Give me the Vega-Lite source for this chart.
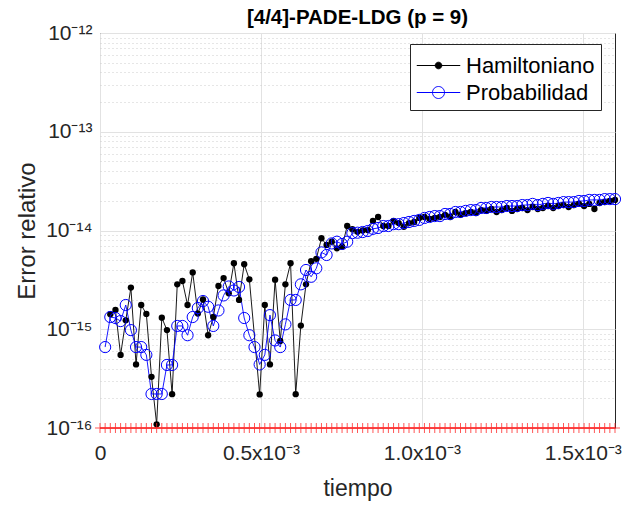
{
  "$schema": "https://vega.github.io/schema/vega-lite/v6.json",
  "width": 515,
  "height": 395,
  "autosize": "none",
  "padding": {"left": 100, "top": 33, "right": 14, "bottom": 78},
  "background": "white",
  "title": {"text": "[4/4]-PADE-LDG (p = 9)", "fontSize": 20.5, "fontWeight": "bold", "color": "#000000", "offset": 6, "dy": 12, "anchor": "middle", "font": "Liberation Sans"},
  "config": {
    "font": "Liberation Sans",
    "view": {"stroke": "#262626", "strokeWidth": 1}
  },
  "datasets": {
    "err": [
      {"t":32,"s":"Hamiltoniano","v":1.42e-15},{"t":48,"s":"Hamiltoniano","v":1.57e-15},{"t":64,"s":"Hamiltoniano","v":5.5e-16},{"t":80,"s":"Hamiltoniano","v":1.23e-15},{"t":96,"s":"Hamiltoniano","v":2.64e-15},{"t":112,"s":"Hamiltoniano","v":4.4e-16},{"t":128,"s":"Hamiltoniano","v":1.76e-15},{"t":144,"s":"Hamiltoniano","v":1.43e-15},{"t":160,"s":"Hamiltoniano","v":3.3e-16},{"t":176,"s":"Hamiltoniano","v":1.09e-16},
      {"t":192,"s":"Hamiltoniano","v":1.31e-15},{"t":208,"s":"Hamiltoniano","v":9.8e-16},{"t":224,"s":"Hamiltoniano","v":2.2e-16},{"t":240,"s":"Hamiltoniano","v":2.85e-15},{"t":256,"s":"Hamiltoniano","v":3.08e-15},{"t":272,"s":"Hamiltoniano","v":1.76e-15},{"t":288,"s":"Hamiltoniano","v":3.76e-15},{"t":304,"s":"Hamiltoniano","v":1.44e-15},{"t":320,"s":"Hamiltoniano","v":2.0e-15},{"t":336,"s":"Hamiltoniano","v":8.7e-16},
      {"t":352,"s":"Hamiltoniano","v":1.33e-15},{"t":368,"s":"Hamiltoniano","v":2.74e-15},{"t":384,"s":"Hamiltoniano","v":3.3e-15},{"t":400,"s":"Hamiltoniano","v":2.31e-15},{"t":416,"s":"Hamiltoniano","v":4.66e-15},{"t":432,"s":"Hamiltoniano","v":1.98e-15},{"t":448,"s":"Hamiltoniano","v":4.55e-15},{"t":464,"s":"Hamiltoniano","v":3.2e-15},{"t":496,"s":"Hamiltoniano","v":2.19e-16},{"t":512,"s":"Hamiltoniano","v":1.76e-15},
      {"t":528,"s":"Hamiltoniano","v":4.4e-16},{"t":544,"s":"Hamiltoniano","v":3.18e-15},{"t":560,"s":"Hamiltoniano","v":7.6e-16},{"t":576,"s":"Hamiltoniano","v":2.85e-15},{"t":592,"s":"Hamiltoniano","v":4.66e-15},{"t":608,"s":"Hamiltoniano","v":2.2e-16},{"t":624,"s":"Hamiltoniano","v":1.09e-15},{"t":640,"s":"Hamiltoniano","v":2.85e-15},{"t":656,"s":"Hamiltoniano","v":4.88e-15},{"t":672,"s":"Hamiltoniano","v":5.17e-15},
      {"t":688,"s":"Hamiltoniano","v":8.34e-15},{"t":704,"s":"Hamiltoniano","v":7.14e-15},{"t":720,"s":"Hamiltoniano","v":7.7e-15},{"t":736,"s":"Hamiltoniano","v":6.6e-15},{"t":752,"s":"Hamiltoniano","v":6.86e-15},{"t":768,"s":"Hamiltoniano","v":1.11e-14},{"t":784,"s":"Hamiltoniano","v":1.03e-14},{"t":800,"s":"Hamiltoniano","v":9.7e-15},{"t":816,"s":"Hamiltoniano","v":1.0e-14},{"t":832,"s":"Hamiltoniano","v":1.01e-14},
      {"t":848,"s":"Hamiltoniano","v":1.25e-14},{"t":864,"s":"Hamiltoniano","v":1.37e-14},{"t":880,"s":"Hamiltoniano","v":1.11e-14},{"t":896,"s":"Hamiltoniano","v":1.11e-14},{"t":912,"s":"Hamiltoniano","v":1.25e-14},{"t":928,"s":"Hamiltoniano","v":1.19e-14},{"t":944,"s":"Hamiltoniano","v":1.09e-14},{"t":960,"s":"Hamiltoniano","v":1.19e-14},{"t":976,"s":"Hamiltoniano","v":1.22e-14},{"t":992,"s":"Hamiltoniano","v":1.34e-14},
      {"t":1008,"s":"Hamiltoniano","v":1.37e-14},{"t":1024,"s":"Hamiltoniano","v":1.31e-14},{"t":1040,"s":"Hamiltoniano","v":1.34e-14},{"t":1056,"s":"Hamiltoniano","v":1.37e-14},{"t":1072,"s":"Hamiltoniano","v":1.44e-14},{"t":1088,"s":"Hamiltoniano","v":1.37e-14},{"t":1104,"s":"Hamiltoniano","v":1.54e-14},{"t":1120,"s":"Hamiltoniano","v":1.44e-14},{"t":1136,"s":"Hamiltoniano","v":1.5e-14},{"t":1152,"s":"Hamiltoniano","v":1.54e-14},
      {"t":1168,"s":"Hamiltoniano","v":1.5e-14},{"t":1184,"s":"Hamiltoniano","v":1.61e-14},{"t":1200,"s":"Hamiltoniano","v":1.58e-14},{"t":1216,"s":"Hamiltoniano","v":1.65e-14},{"t":1232,"s":"Hamiltoniano","v":1.54e-14},{"t":1248,"s":"Hamiltoniano","v":1.61e-14},{"t":1264,"s":"Hamiltoniano","v":1.69e-14},{"t":1280,"s":"Hamiltoniano","v":1.58e-14},{"t":1296,"s":"Hamiltoniano","v":1.65e-14},{"t":1312,"s":"Hamiltoniano","v":1.69e-14},
      {"t":1328,"s":"Hamiltoniano","v":1.61e-14},{"t":1344,"s":"Hamiltoniano","v":1.73e-14},{"t":1360,"s":"Hamiltoniano","v":1.65e-14},{"t":1376,"s":"Hamiltoniano","v":1.69e-14},{"t":1392,"s":"Hamiltoniano","v":1.77e-14},{"t":1408,"s":"Hamiltoniano","v":1.69e-14},{"t":1424,"s":"Hamiltoniano","v":1.77e-14},{"t":1440,"s":"Hamiltoniano","v":1.81e-14},{"t":1456,"s":"Hamiltoniano","v":1.73e-14},{"t":1472,"s":"Hamiltoniano","v":1.81e-14},
      {"t":1488,"s":"Hamiltoniano","v":1.86e-14},{"t":1504,"s":"Hamiltoniano","v":1.77e-14},{"t":1520,"s":"Hamiltoniano","v":1.86e-14},{"t":1536,"s":"Hamiltoniano","v":1.65e-14},{"t":1552,"s":"Hamiltoniano","v":1.9e-14},{"t":1568,"s":"Hamiltoniano","v":1.94e-14},{"t":1584,"s":"Hamiltoniano","v":1.99e-14},{"t":1600,"s":"Hamiltoniano","v":2.04e-14},

      {"t":16,"s":"Probabilidad","v":6.6e-16},{"t":32,"s":"Probabilidad","v":1.33e-15},{"t":48,"s":"Probabilidad","v":1.3e-15},{"t":64,"s":"Probabilidad","v":1.21e-15},{"t":80,"s":"Probabilidad","v":1.76e-15},{"t":96,"s":"Probabilidad","v":9.8e-16},{"t":112,"s":"Probabilidad","v":6.6e-16},{"t":128,"s":"Probabilidad","v":6.6e-16},{"t":144,"s":"Probabilidad","v":5.5e-16},{"t":160,"s":"Probabilidad","v":2.21e-16},
      {"t":176,"s":"Probabilidad","v":2.21e-16},{"t":192,"s":"Probabilidad","v":2.21e-16},{"t":208,"s":"Probabilidad","v":4.35e-16},{"t":224,"s":"Probabilidad","v":4.35e-16},{"t":240,"s":"Probabilidad","v":1.08e-15},{"t":256,"s":"Probabilidad","v":1.08e-15},{"t":272,"s":"Probabilidad","v":8.7e-16},{"t":288,"s":"Probabilidad","v":1.33e-15},{"t":304,"s":"Probabilidad","v":1.64e-15},{"t":320,"s":"Probabilidad","v":1.93e-15},
      {"t":336,"s":"Probabilidad","v":1.69e-15},{"t":352,"s":"Probabilidad","v":1.08e-15},{"t":368,"s":"Probabilidad","v":1.55e-15},{"t":384,"s":"Probabilidad","v":2.2e-15},{"t":400,"s":"Probabilidad","v":2.71e-15},{"t":416,"s":"Probabilidad","v":2.47e-15},{"t":432,"s":"Probabilidad","v":2.68e-15},{"t":448,"s":"Probabilidad","v":1.3e-15},{"t":464,"s":"Probabilidad","v":8.7e-16},{"t":480,"s":"Probabilidad","v":6.6e-16},
      {"t":496,"s":"Probabilidad","v":4.4e-16},{"t":512,"s":"Probabilidad","v":5.5e-16},{"t":528,"s":"Probabilidad","v":1.39e-15},{"t":544,"s":"Probabilidad","v":7.7e-16},{"t":560,"s":"Probabilidad","v":6.6e-16},{"t":576,"s":"Probabilidad","v":1.12e-15},{"t":592,"s":"Probabilidad","v":1.98e-15},{"t":608,"s":"Probabilidad","v":1.98e-15},{"t":624,"s":"Probabilidad","v":2.85e-15},{"t":640,"s":"Probabilidad","v":3.98e-15},
      {"t":656,"s":"Probabilidad","v":3.4e-15},{"t":672,"s":"Probabilidad","v":4.14e-15},{"t":688,"s":"Probabilidad","v":6.0e-15},{"t":704,"s":"Probabilidad","v":5.65e-15},{"t":720,"s":"Probabilidad","v":7.4e-15},{"t":736,"s":"Probabilidad","v":7.7e-15},{"t":752,"s":"Probabilidad","v":7.3e-15},{"t":768,"s":"Probabilidad","v":7.7e-15},{"t":784,"s":"Probabilidad","v":9.4e-15},{"t":800,"s":"Probabilidad","v":9.5e-15},
      {"t":816,"s":"Probabilidad","v":9.65e-15},{"t":832,"s":"Probabilidad","v":9.88e-15},{"t":848,"s":"Probabilidad","v":1.04e-14},{"t":864,"s":"Probabilidad","v":1.06e-14},{"t":880,"s":"Probabilidad","v":1.11e-14},{"t":896,"s":"Probabilidad","v":1.11e-14},{"t":912,"s":"Probabilidad","v":1.16e-14},{"t":928,"s":"Probabilidad","v":1.16e-14},{"t":944,"s":"Probabilidad","v":1.19e-14},{"t":960,"s":"Probabilidad","v":1.22e-14},
      {"t":976,"s":"Probabilidad","v":1.25e-14},{"t":992,"s":"Probabilidad","v":1.28e-14},{"t":1008,"s":"Probabilidad","v":1.34e-14},{"t":1024,"s":"Probabilidad","v":1.37e-14},{"t":1040,"s":"Probabilidad","v":1.4e-14},{"t":1056,"s":"Probabilidad","v":1.4e-14},{"t":1072,"s":"Probabilidad","v":1.47e-14},{"t":1088,"s":"Probabilidad","v":1.47e-14},{"t":1104,"s":"Probabilidad","v":1.54e-14},{"t":1120,"s":"Probabilidad","v":1.54e-14},
      {"t":1136,"s":"Probabilidad","v":1.58e-14},{"t":1152,"s":"Probabilidad","v":1.61e-14},{"t":1168,"s":"Probabilidad","v":1.61e-14},{"t":1184,"s":"Probabilidad","v":1.69e-14},{"t":1200,"s":"Probabilidad","v":1.69e-14},{"t":1216,"s":"Probabilidad","v":1.73e-14},{"t":1232,"s":"Probabilidad","v":1.73e-14},{"t":1248,"s":"Probabilidad","v":1.73e-14},{"t":1264,"s":"Probabilidad","v":1.77e-14},{"t":1280,"s":"Probabilidad","v":1.77e-14},
      {"t":1296,"s":"Probabilidad","v":1.77e-14},{"t":1312,"s":"Probabilidad","v":1.81e-14},{"t":1328,"s":"Probabilidad","v":1.81e-14},{"t":1344,"s":"Probabilidad","v":1.86e-14},{"t":1360,"s":"Probabilidad","v":1.81e-14},{"t":1376,"s":"Probabilidad","v":1.86e-14},{"t":1392,"s":"Probabilidad","v":1.9e-14},{"t":1408,"s":"Probabilidad","v":1.86e-14},{"t":1424,"s":"Probabilidad","v":1.9e-14},{"t":1440,"s":"Probabilidad","v":1.94e-14},
      {"t":1456,"s":"Probabilidad","v":1.94e-14},{"t":1472,"s":"Probabilidad","v":1.94e-14},{"t":1488,"s":"Probabilidad","v":1.99e-14},{"t":1504,"s":"Probabilidad","v":1.99e-14},{"t":1520,"s":"Probabilidad","v":2.04e-14},{"t":1536,"s":"Probabilidad","v":2.04e-14},{"t":1552,"s":"Probabilidad","v":2.04e-14},{"t":1568,"s":"Probabilidad","v":2.08e-14},{"t":1584,"s":"Probabilidad","v":2.08e-14},{"t":1600,"s":"Probabilidad","v":2.08e-14}
    ],
    "ref": [
      {"t":0,"v":1e-16},{"t":16,"v":1e-16},{"t":32,"v":1e-16},{"t":48,"v":1e-16},{"t":64,"v":1e-16},{"t":80,"v":1e-16},{"t":96,"v":1e-16},{"t":112,"v":1e-16},{"t":128,"v":1e-16},{"t":144,"v":1e-16},
      {"t":160,"v":1e-16},{"t":176,"v":1e-16},{"t":192,"v":1e-16},{"t":208,"v":1e-16},{"t":224,"v":1e-16},{"t":240,"v":1e-16},{"t":256,"v":1e-16},{"t":272,"v":1e-16},{"t":288,"v":1e-16},{"t":304,"v":1e-16},
      {"t":320,"v":1e-16},{"t":336,"v":1e-16},{"t":352,"v":1e-16},{"t":368,"v":1e-16},{"t":384,"v":1e-16},{"t":400,"v":1e-16},{"t":416,"v":1e-16},{"t":432,"v":1e-16},{"t":448,"v":1e-16},{"t":464,"v":1e-16},
      {"t":480,"v":1e-16},{"t":496,"v":1e-16},{"t":512,"v":1e-16},{"t":528,"v":1e-16},{"t":544,"v":1e-16},{"t":560,"v":1e-16},{"t":576,"v":1e-16},{"t":592,"v":1e-16},{"t":608,"v":1e-16},{"t":624,"v":1e-16},
      {"t":640,"v":1e-16},{"t":656,"v":1e-16},{"t":672,"v":1e-16},{"t":688,"v":1e-16},{"t":704,"v":1e-16},{"t":720,"v":1e-16},{"t":736,"v":1e-16},{"t":752,"v":1e-16},{"t":768,"v":1e-16},{"t":784,"v":1e-16},
      {"t":800,"v":1e-16},{"t":816,"v":1e-16},{"t":832,"v":1e-16},{"t":848,"v":1e-16},{"t":864,"v":1e-16},{"t":880,"v":1e-16},{"t":896,"v":1e-16},{"t":912,"v":1e-16},{"t":928,"v":1e-16},{"t":944,"v":1e-16},
      {"t":960,"v":1e-16},{"t":976,"v":1e-16},{"t":992,"v":1e-16},{"t":1008,"v":1e-16},{"t":1024,"v":1e-16},{"t":1040,"v":1e-16},{"t":1056,"v":1e-16},{"t":1072,"v":1e-16},{"t":1088,"v":1e-16},{"t":1104,"v":1e-16},
      {"t":1120,"v":1e-16},{"t":1136,"v":1e-16},{"t":1152,"v":1e-16},{"t":1168,"v":1e-16},{"t":1184,"v":1e-16},{"t":1200,"v":1e-16},{"t":1216,"v":1e-16},{"t":1232,"v":1e-16},{"t":1248,"v":1e-16},{"t":1264,"v":1e-16},
      {"t":1280,"v":1e-16},{"t":1296,"v":1e-16},{"t":1312,"v":1e-16},{"t":1328,"v":1e-16},{"t":1344,"v":1e-16},{"t":1360,"v":1e-16},{"t":1376,"v":1e-16},{"t":1392,"v":1e-16},{"t":1408,"v":1e-16},{"t":1424,"v":1e-16},
      {"t":1440,"v":1e-16},{"t":1456,"v":1e-16},{"t":1472,"v":1e-16},{"t":1488,"v":1e-16},{"t":1504,"v":1e-16},{"t":1520,"v":1e-16},{"t":1536,"v":1e-16},{"t":1552,"v":1e-16},{"t":1568,"v":1e-16},{"t":1584,"v":1e-16},
      {"t":1600,"v":1e-16}
    ]
  },
  "encoding": {
    "x": {
      "field": "t", "type": "quantitative",
      "scale": {"domain": [0, 1600], "nice": false, "zero": false},
      "axis": {
        "values": [0, 500, 1000, 1500],
        "labelExpr": "datum.value == 0 ? '0' : format(datum.value/1000, '.1f') + 'x10⁻³'",
        "grid": true, "gridColor": "#e2e2e2", "gridWidth": 1,
        "ticks": false, "domain": false,
        "labelFontSize": 21, "labelColor": "#262626", "labelPadding": 14, "labelFlush": false, "labelFont": "Liberation Sans",
        "title": "tiempo", "titleFontSize": 23, "titleFontWeight": "normal", "titleColor": "#262626", "titlePadding": 14, "titleFont": "Liberation Sans"
      }
    },
    "y": {
      "field": "v", "type": "quantitative",
      "scale": {"type": "log", "domain": [1e-16, 1e-12], "nice": false},
      "axis": {
        "values": [1e-16,2e-16,3e-16,4e-16,5e-16,6e-16,7e-16,8e-16,9e-16,1e-15,2e-15,3e-15,4e-15,5e-15,6e-15,7e-15,8e-15,9e-15,1e-14,2e-14,3e-14,4e-14,5e-14,6e-14,7e-14,8e-14,9e-14,1e-13,2e-13,3e-13,4e-13,5e-13,6e-13,7e-13,8e-13,9e-13,1e-12],
        "labelExpr": "abs(log(datum.value)/LN10 - round(log(datum.value)/LN10)) > 0.01 ? '' : '10' + replace(replace(replace(replace(replace(replace(replace('' + round(log(datum.value)/LN10), '-', '⁻'), '1', '¹'), '2', '²'), '3', '³'), '4', '⁴'), '5', '⁵'), '6', '⁶')",
        "grid": true,
        "gridColor": {"condition": {"test": "abs(log(datum.value)/LN10 - round(log(datum.value)/LN10)) < 0.01", "value": "#e2e2e2"}, "value": "#cccccc"},
        "gridDash": {"condition": {"test": "abs(log(datum.value)/LN10 - round(log(datum.value)/LN10)) < 0.01", "value": []}, "value": [1, 3]},
        "ticks": false, "domain": false,
        "labelFontSize": 21, "labelColor": "#262626", "labelPadding": 8, "labelFont": "Liberation Sans",
        "title": "Error relativo", "titleFontSize": 24, "titleFontWeight": "normal", "titleColor": "#262626", "titlePadding": 6, "titleFont": "Liberation Sans"
      }
    }
  },
  "layer": [
    {
      "data": {"name": "err"},
      "mark": {"type": "line", "strokeWidth": 0.9},
      "encoding": {
        "color": {
          "field": "s", "type": "nominal",
          "scale": {"domain": ["Hamiltoniano", "Probabilidad"], "range": ["#000000", "#0000ff"]},
          "legend": {
            "title": null, "orient": "none", "legendX": 310, "legendY": 11,
            "symbolType": "M-1,0H1", "symbolSize": 900, "symbolStrokeWidth": 1, "symbolOffset": 7,
            "labelFontSize": 22, "labelFont": "Liberation Sans", "labelColor": "#000000", "labelOffset": 12,
            "strokeColor": "#262626", "fillColor": "white", "padding": 6, "rowPadding": 0,
            "encode": {
              "symbols": {
                "update": {
                  "shape": {"signal": "datum.value === 'Hamiltoniano' ? 'M-1.45,0H1.45M0.22,0A0.22,0.22 0 1,1 -0.22,0A0.22,0.22 0 1,1 0.22,0' : 'M-1.45,0H1.45M0.4,0A0.4,0.4 0 1,1 -0.4,0A0.4,0.4 0 1,1 0.4,0'"},
                  "fill": {"signal": "datum.value === 'Hamiltoniano' ? '#000000' : 'transparent'"},
                  "fillOpacity": {"value": 1}
                }
              }
            }
          }
        }
      }
    },
    {
      "data": {"name": "err"},
      "transform": [{"filter": "datum.s === 'Hamiltoniano'"}],
      "mark": {"type": "point", "shape": "circle", "filled": true, "color": "#000000", "size": 40, "opacity": 1}
    },
    {
      "data": {"name": "err"},
      "transform": [{"filter": "datum.s === 'Probabilidad'"}],
      "mark": {"type": "point", "shape": "circle", "filled": false, "color": "#0000ff", "size": 125, "strokeWidth": 1, "opacity": 1}
    },
    {
      "data": {"name": "ref"},
      "mark": {"type": "line", "color": "#ff0000", "strokeWidth": 1}
    },
    {
      "data": {"name": "ref"},
      "mark": {"type": "point", "shape": "M0,-1V1M-1,0H1", "filled": false, "color": "#ff2020", "size": 100, "strokeWidth": 1, "opacity": 0.75}
    }
  ]
}
